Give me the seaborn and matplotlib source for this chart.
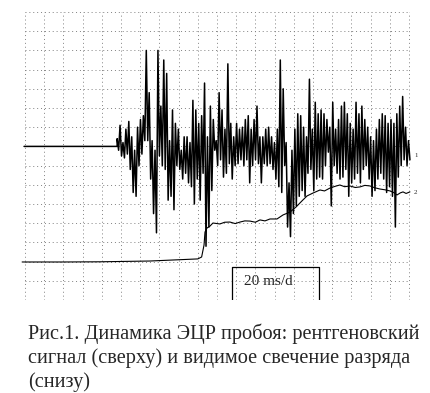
import numpy as np
import pandas as pd
import matplotlib
matplotlib.use("Agg")
import matplotlib.pyplot as plt
import seaborn as sns

# time axis: 20 ms per division, grid from 0 to 400 ms
grid_t = list(range(0, 401, 20))
grid_y = list(range(0, 16))

# upper trace (x-ray signal), flat part then noise, divisions around baseline 8
top_base = 8.0
top_flat_t = [-1, 96]
top_noise = [
    0.4, -0.2, 1.1, -0.5, 0.2, -0.6, 0.9, -0.4, 1.3, -1.2, 0.5, -2.4, -0.2, -2.6,
    1.0, -1.0, 1.4, -0.4, 1.6, 0.3, 5.0, 0.3, 2.8, -1.7, 0.3, -3.5, -0.2, -4.5,
    5.0, -0.5, 2.1, -1.0, 4.5, -1.2, 3.8, -2.8, 0.3, -2.6, 1.9, -3.3, 1.2, -1.0,
    0.9, -1.2, -0.2, -1.7, 0.5, -1.4,
    0.5, -1.9, 0.2, -2.1, 2.4, -3.0, 1.9, -1.7, 1.2, -2.8, 1.6, -1.4, 3.3, -5.2,
    0.5, -4.2, 2.1, -2.3, 1.4, -0.2, 0.3, -1.0, 2.8, -0.7, 1.9, -1.6, 0.9, -1.4,
    4.3, -0.9, 1.2, -1.7, 0.5, -1.0, 1.2, -0.9, 0.9, -0.7, 1.0, -1.0, 1.4, -0.7,
    1.6, -1.9, 0.9, -1.0, 1.4, -0.7, 2.1, -0.9, 0.5, -1.9,
    0.5, -0.9, 0.9, -1.0, 1.0, -0.9, 0.5, -1.2, 0.2, -1.7, 0.9, -2.1, 4.5, -2.4,
    3.0, -1.0, 0.2, -4.2, -1.9, -4.7, -0.2, -3.5, 0.9, -3.1, 1.7, -2.6, 1.6, -2.3,
    1.0, -2.6, 0.5, -1.4, 3.5, -1.2, 0.9, -2.3, 2.3, -1.7, 1.7, -1.6, 1.9, -1.7,
    1.7, -1.0, 1.4, -0.3, 1.0, -3.1, 2.3, -1.0, 0.9, -1.4,
    1.4, -1.7, 2.1, -1.6, 2.3, -1.2, 1.7, -2.6, 1.2, -1.9, 0.9, -1.7, 2.3, -1.4,
    1.7, -1.9, 2.1, -1.2, 1.4, -1.0, 1.0, -1.7, 0.5, -2.6, 0.3, -2.3, 0.9, -1.7,
    1.4, -1.4, 1.7, -1.7, 1.6, -2.4, 1.2, -2.1, 1.4, -2.6, 1.2, -4.2, 1.7, -1.6,
    2.1, -1.0, 2.6, -0.7, 1.0, -1.0, 0.3, -0.7,
]
top_noise_start, top_noise_end = 96, 401

# lower trace (visible glow of discharge)
low_t = [-3, 40, 78, 130, 180, 184, 186.5, 187.5, 189.6, 192.7, 195.8, 203, 208,
         213.5, 219, 224, 229, 234.4, 240, 244.8, 250, 255.2, 262.5, 268.8, 276,
         282.3, 288.5, 293.8, 300, 307.3, 312, 317.7, 323, 328, 333, 338.5, 344,
         349, 354, 359.4, 364, 369.8, 375, 380.2, 384, 387.5, 391, 393.8, 397, 401]
low_y = [1.98, 1.98, 1.99, 2.03, 2.14, 2.24, 2.86, 3.54, 3.75, 3.85, 4.01, 3.96,
         4.05, 4.06, 3.98, 4.06, 4.12, 4.11, 4.05, 4.17, 4.12, 4.22, 4.22, 4.43,
         4.58, 4.84, 5.16, 5.42, 5.57, 5.73, 5.68, 5.83, 5.92, 5.99, 5.90, 5.94,
         5.86, 5.89, 5.97, 5.94, 5.85, 5.78, 5.74, 5.68, 5.60, 5.47, 5.58, 5.63,
         5.55, 5.63]

scale_label = "20 ms/d"
caption = ["Рис.1. Динамика ЭЦР пробоя: рентгеновский",
           "сигнал (сверху) и видимое свечение разряда",
           "(снизу)"]

sns.set_style("white")
plt.rcParams['font.family'] = ['Liberation Serif', 'DejaVu Serif']

fig = plt.figure(figsize=(4.30, 3.93), dpi=100)
ax = fig.add_axes([0, 93 / 393, 1, 300 / 393])
ax.set_xlim(-26.04, 421.9)
ax.set_ylim(0, 15.625)
ax.axis("off")

# dotted oscilloscope grid
for t in grid_t:
    ax.axvline(t, ymin=0, ymax=15.0 / 15.625, color="0.5", lw=0.7,
               ls=(0, (1, 3)), zorder=1)
for y in grid_y:
    ax.axhline(y, xmin=26.04 / 447.94, xmax=(26.04 + 400) / 447.94,
               color="0.5", lw=0.7, ls=(0, (1, 3)), zorder=1)

top_t = np.concatenate([top_flat_t, np.linspace(top_noise_start, top_noise_end, len(top_noise))])
top_v = np.concatenate([[top_base, top_base], top_base + np.array(top_noise)])
top_df = pd.DataFrame({"t": top_t, "v": top_v})
low_df = pd.DataFrame({"t": low_t, "v": low_y})

sns.lineplot(data=top_df, x="t", y="v", ax=ax, color="black", lw=1.1,
             estimator=None, sort=False, zorder=3)
sns.lineplot(data=low_df, x="t", y="v", ax=ax, color="black", lw=0.8,
             estimator=None, sort=False, zorder=3)
ax.set_xlim(-26.04, 421.9)
ax.set_ylim(0, 15.625)

ax.text(406, 7.55, "1", fontsize=5, ha="left", va="center")
ax.text(405, 5.6, "2", fontsize=5, ha="left", va="center")

# time scale box
ax.plot([215.6, 215.6, 306.3, 306.3], [0, 1.72, 1.72, 0], color="black", lw=0.9, zorder=4)
ax.text(253, 0.94, scale_label, fontsize=11, ha="center", va="center")

for i, line in enumerate(caption):
    fig.text(28 / 430, 1 - (339 + 24 * i) / 393, line, fontsize=14.6,
             ha="left", va="baseline")

fig.savefig("out.png", dpi=100)
